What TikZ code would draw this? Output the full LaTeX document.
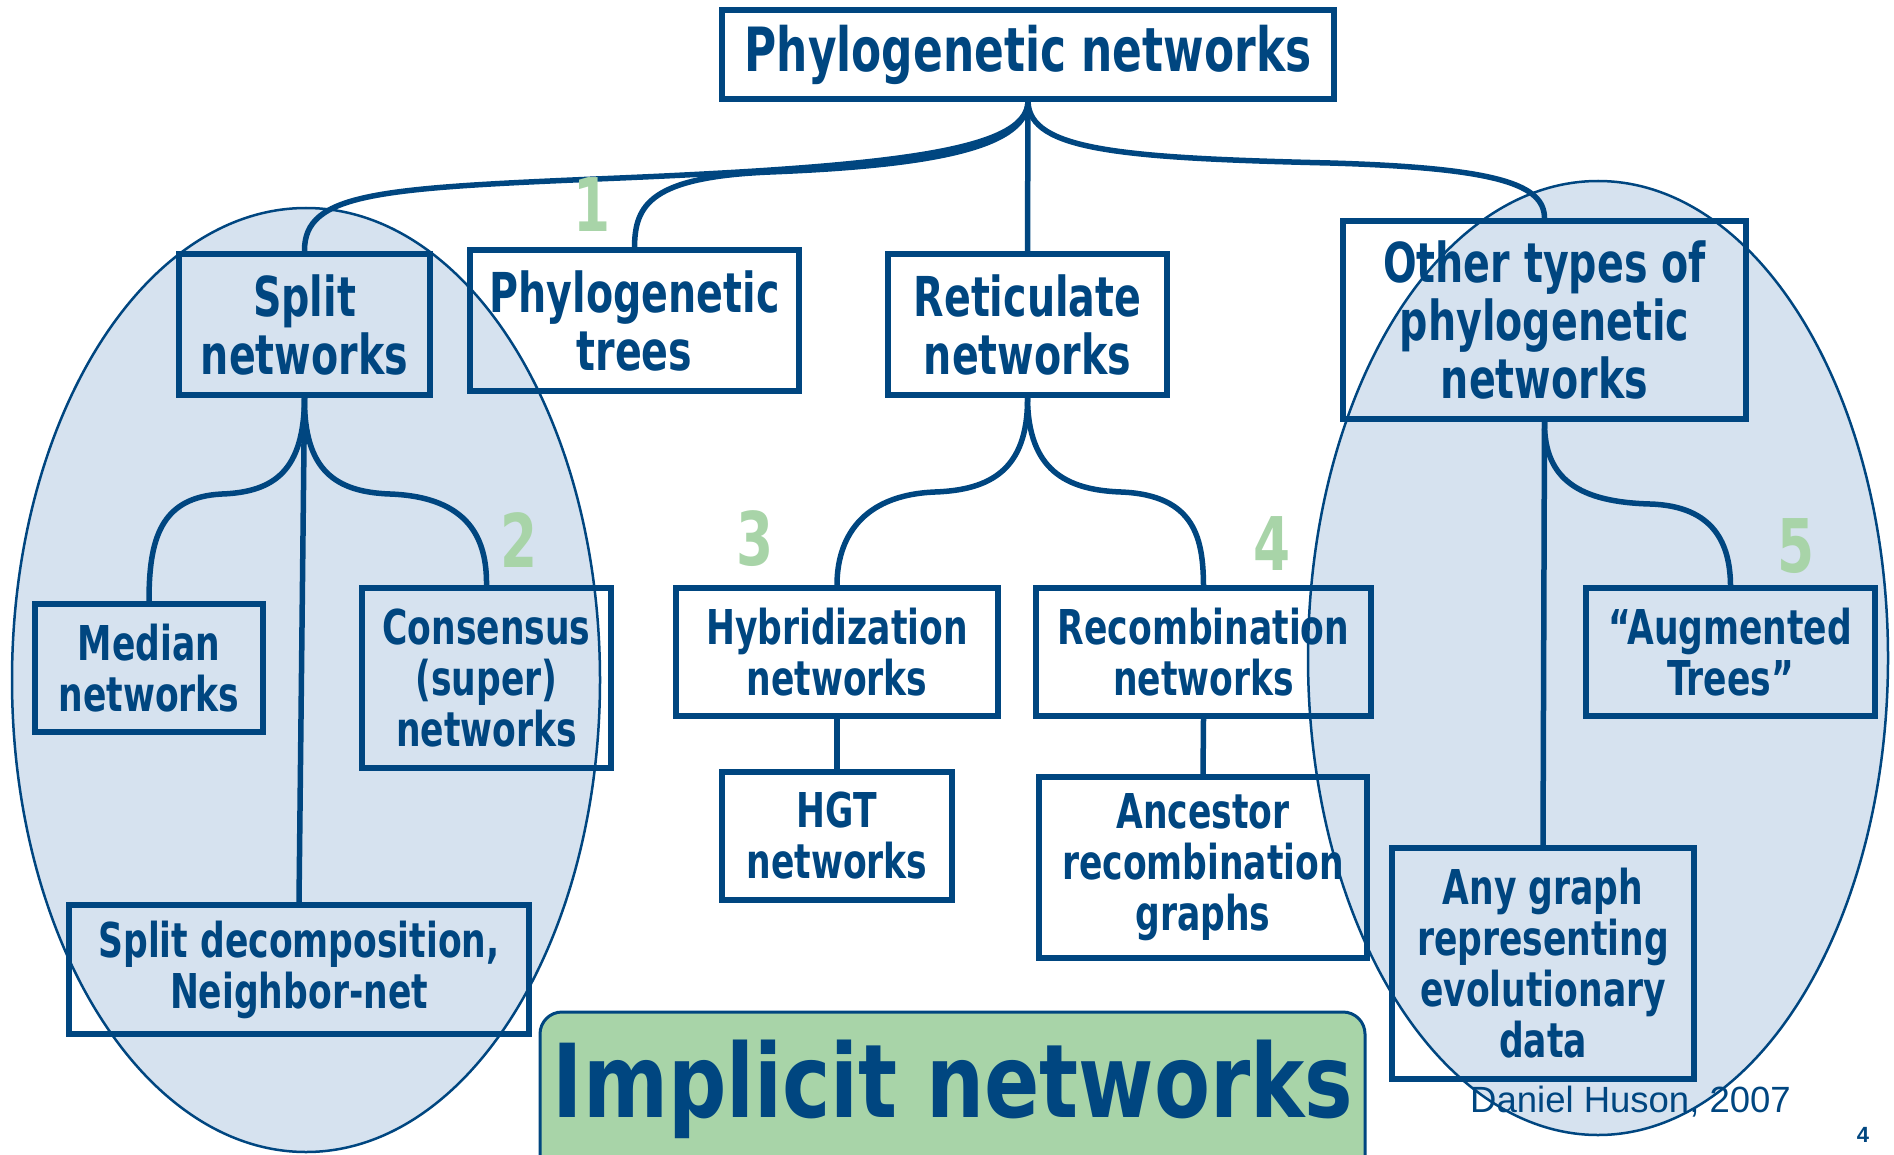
\documentclass[tikz,border=0pt]{standalone}
\usepackage{fontspec}
\newfontfamily\cfont{DejaVu Sans}[FakeStretch=0.72]
\newfontfamily\bigfont{DejaVu Sans}[FakeStretch=0.8]
\newfontfamily\arialfont{Liberation Sans}
\definecolor{dblue}{RGB}{0,70,128}
\definecolor{lgreen}{RGB}{168,212,168}
\definecolor{efill}{RGB}{214,226,239}
\begin{document}
\begin{tikzpicture}[x=1pt,y=-1pt,
  box/.style={draw=dblue, line width=6pt, text=dblue, align=center, inner sep=0pt,
    font=\cfont\bfseries\fontsize{48}{51}\selectfont},
  boxL/.style={box, font=\cfont\bfseries\fontsize{55}{58}\selectfont},
  conn/.style={draw=dblue, line width=5.5pt},
  num/.style={text=lgreen, inner sep=0pt, font=\cfont\bfseries\fontsize{74}{74}\selectfont},
  oval/.style={fill=efill, draw=dblue, line width=2.5pt}]
\useasboundingbox (0,0) rectangle (1894,1155);
\begin{scope}
\clip (0,0) rectangle (1894,1155);
% shaded ellipses
\draw[oval] (306,680) ellipse [x radius=294, y radius=472];
\draw[oval] (1598,658) ellipse [x radius=290, y radius=477];
% implicit networks box
\draw[fill=lgreen, draw=dblue, line width=3pt, rounded corners=22pt] (540,1012) rectangle (1365,1190);
\end{scope}
\node[text=dblue, anchor=base, inner sep=0pt, font=\bigfont\bfseries\fontsize{102}{102}\selectfont] (impl) at (953,1117) {Implicit networks};

% boxes
\node[box, minimum width=612pt, minimum height=89pt, font=\cfont\bfseries\fontsize{61}{64}\selectfont] (top) at (1028,54.5) {Phylogenetic networks};
\node[boxL, minimum width=251pt, minimum height=141pt] (split) at (304.5,324.5) {Split\\networks};
\node[boxL, minimum width=329pt, minimum height=141pt] (trees) at (634.5,320.5) {Phylogenetic\\trees};
\node[boxL, minimum width=279pt, minimum height=141pt] (retic) at (1027.5,324.5) {Reticulate\\networks};
\node[boxL, minimum width=403pt, minimum height=198pt] (other) at (1544.5,320) {Other types of\\phylogenetic\\networks};
\node[box, minimum width=228pt, minimum height=128pt] (median) at (149,668) {Median\\networks};
\node[box, minimum width=249pt, minimum height=180pt] (consensus) at (486.5,678) {Consensus\\(super)\\networks};
\node[box, minimum width=460pt, minimum height=129pt] (splitdec) at (299,969.5) {Split decomposition,\\Neighbor-net};
\node[box, minimum width=322pt, minimum height=128pt] (hybrid) at (837,652) {Hybridization\\networks};
\node[box, minimum width=335pt, minimum height=128pt] (recomb) at (1203.5,652) {Recombination\\networks};
\node[box, minimum width=230pt, minimum height=128pt] (hgt) at (837,836) {HGT\\networks};
\node[box, minimum width=328pt, minimum height=181pt] (arg) at (1203,867.5) {Ancestor\\recombination\\graphs};
\node[box, minimum width=289pt, minimum height=128pt] (aug) at (1730.5,652) {\char"201C Augmented\\Trees\char"201D};
\node[box, minimum width=302pt, minimum height=231pt] (any) at (1543,963.5) {Any graph\\representing\\evolutionary\\data};

% connectors from the root
\draw[conn] (top.south) .. controls (1026,150) and (900,166) .. (620,178) .. controls (380,188) and (304,192) .. (split.north);
\draw[conn] (top.south) .. controls (1026,150) and (920,166) .. (770,172) .. controls (650,177) and (635,205) .. (trees.north);
\draw[conn] (top.south) -- (retic.north);
\draw[conn] (top.south) .. controls (1030,150) and (1120,158) .. (1330,163) .. controls (1500,168) and (1544,185) .. (other.north);
% split networks children
\draw[conn] (split.south) -- (splitdec.north);
\draw[conn] (split.south) .. controls (304,470) and (275,492) .. (222,494) .. controls (160,497) and (149,540) .. (median.north);
\draw[conn] (split.south) .. controls (304,470) and (335,492) .. (390,494) .. controls (470,497) and (487,540) .. (consensus.north);
% reticulate children
\draw[conn] (retic.south) .. controls (1028,470) and (990,490) .. (935,492) .. controls (860,495) and (837,540) .. (hybrid.north);
\draw[conn] (retic.south) .. controls (1028,470) and (1066,490) .. (1121,492) .. controls (1196,495) and (1203,540) .. (recomb.north);
\draw[conn] (hybrid.south) -- (hgt.north);
\draw[conn] (recomb.south) -- (arg.north);
% other types children
\draw[conn] (other.south) -- (any.north);
\draw[conn] (other.south) .. controls (1544,480) and (1580,502) .. (1650,504) .. controls (1715,506) and (1730,545) .. (aug.north);

% green numbers
\node[num] (n1) at (592,205) {1};
\node[num] (n2) at (519,540) {2};
\node[num] (n3) at (755,539) {3};
\node[num] (n4) at (1272,544) {4};
\node[num] (n5) at (1796,546) {5};

% credits
\node[text=dblue, anchor=base west, inner sep=0pt, font=\arialfont\fontsize{36.5}{40}\selectfont] (credit) at (1470,1112) {Daniel Huson, 2007};
\node[text=dblue, inner sep=0pt, font=\arialfont\bfseries\fontsize{22}{24}\selectfont] (page) at (1863,1135) {4};
\end{tikzpicture}
\end{document}
